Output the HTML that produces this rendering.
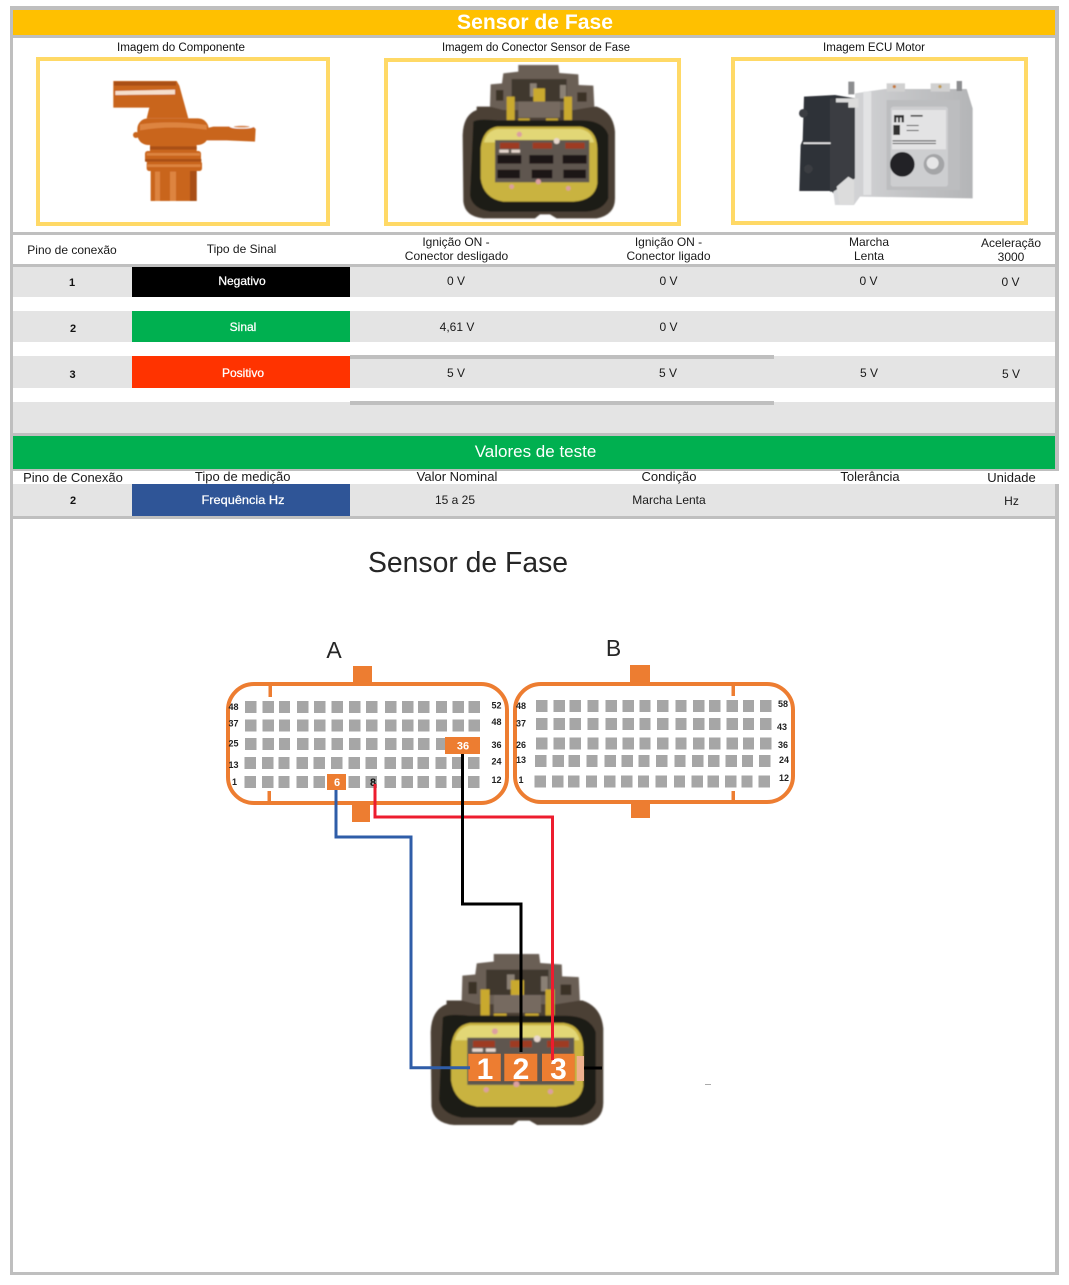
<!DOCTYPE html>
<html><head><meta charset="utf-8"><title>Sensor de Fase</title>
<style>html,body{margin:0;padding:0;background:#fff}svg{display:block}text{font-family:"Liberation Sans",sans-serif}</style></head>
<body>
<svg xmlns="http://www.w3.org/2000/svg" width="1069" height="1285" viewBox="0 0 1069 1285">
<defs>
<filter id="b1" x="-5%" y="-5%" width="110%" height="110%"><feGaussianBlur stdDeviation="2.4"/></filter>
<filter id="b2" x="-5%" y="-5%" width="110%" height="110%"><feGaussianBlur stdDeviation="1.5"/></filter>
<linearGradient id="plate" x1="0" y1="0" x2="1" y2="0"><stop offset="0" stop-color="#d8d9db"/><stop offset=".5" stop-color="#c4c5c7"/><stop offset="1" stop-color="#b4b5b7"/></linearGradient>
<path id="ra" d="M245 0h11.500v12h-11.500zM262.500 0h11.500v12h-11.500zM279 0h11v12h-11zM297 0h11.500v12h-11.500zM314 0h11.500v12h-11.500zM331.500 0h11.500v12h-11.500zM349 0h11.500v12h-11.500zM366 0h11.500v12h-11.500zM385 0h11.500v12h-11.500zM402 0h11.500v12h-11.500zM418 0h11.500v12h-11.500zM436 0h11v12h-11zM452.500 0h11.500v12h-11.500zM468.500 0h11.500v12h-11.500z"/>
<path id="rb" d="M536 0h11.500v12h-11.500zM553.500 0h11.500v12h-11.500zM569.500 0h11.500v12h-11.500zM587.500 0h11v12h-11zM605.500 0h11.500v12h-11.500zM622.500 0h11.500v12h-11.500zM639.500 0h11v12h-11zM657 0h11.500v12h-11.500zM675.500 0h11v12h-11zM693 0h11.500v12h-11.500zM709 0h11.500v12h-11.500zM726.500 0h11.500v12h-11.500zM743 0h11v12h-11zM760 0h11.500v12h-11.500z"/>
<g id="conn" filter="url(#b1)">
  <path fill="#4b4036" d="M110 165Q70 180 68 240L70 440Q75 485 130 490L285 490L300 478L330 478L350 490L470 490Q525 480 525 430L525 230Q520 172 470 155L110 155Z"/>
  <path fill="#6a5e54" d="M235 30L355 30L358 54L415 58L416 90L460 92L463 155L400 165L190 165L150 155L152 88L186 85L190 55L235 50Z"/>
  <path fill="#3a3128" d="M168 105h22v32h-22zM412 112h28v28h-28z"/>
  <path fill="#3f372f" d="M215 72h165v68h-165z"/>
  <path fill="#8a8074" d="M270 85h20v40h-20zM360 90h18v40h-18z"/>
  <path fill="#c9a92d" d="M280 100h35v40h-35zM200 125h24v70h-24zM372 125h24v70h-24zM235 190h34v24h-34zM318 190h36v24h-36z"/>
  <path fill="#766a60" d="M235 140h125v48h-125z"/>
  <path fill="#1f1a15" d="M100 200Q115 190 170 196L420 196Q490 195 505 240L505 430Q490 465 440 470L150 470Q95 460 90 420Z"/>
  <path fill="#c9b33f" d="M172 215L420 215Q470 222 472 280L472 385Q465 435 400 440L190 440Q130 430 122 370L122 280Q128 222 172 215Z"/>
  <path fill="#e2d776" d="M172 222L420 222Q455 228 462 262L132 262Q140 228 172 222Z"/>
  <rect x="165" y="255" width="283" height="127" fill="#5f5750"/>
  <g fill="#1c1816"><rect x="172" y="300" width="72" height="26"/><rect x="268" y="300" width="72" height="26"/><rect x="368" y="300" width="72" height="26"/><rect x="172" y="344" width="68" height="26"/><rect x="275" y="344" width="62" height="26"/><rect x="370" y="344" width="68" height="26"/></g>
  <g fill="#9e3a24"><rect x="180" y="263" width="58" height="18"/><rect x="278" y="263" width="58" height="18"/><rect x="376" y="263" width="58" height="18"/></g>
  <g fill="#e8d8cf"><rect x="178" y="284" width="28" height="9"/><rect x="214" y="284" width="26" height="9"/><circle cx="350" cy="258" r="9"/></g>
  <g fill="#dc9fa0"><circle cx="238" cy="238" r="8"/><circle cx="215" cy="395" r="7"/><circle cx="295" cy="380" r="8"/><circle cx="385" cy="400" r="7"/></g>
</g>
</defs>
<rect width="1069" height="1285" fill="#fff"/>

<!-- frame -->
<g fill="#bfbfbf">
<rect x="10" y="6" width="1049" height="4"/>
<rect x="10" y="6" width="3" height="1269"/>
<rect x="1055" y="6" width="4" height="465"/>
<rect x="1055" y="484" width="4" height="791"/>
<rect x="10" y="1272" width="1049" height="3"/>
<rect x="13" y="35" width="1043" height="3"/>
<rect x="13" y="232" width="1043" height="3"/>
<rect x="13" y="264" width="1043" height="3"/>
<rect x="13" y="433" width="1043" height="3"/>
<rect x="13" y="516" width="1043" height="3"/>
<rect x="13" y="469" width="1046" height="2"/>
</g>
<rect x="13" y="10" width="1042" height="25" fill="#ffc000"/>
<text x="535" y="29" text-anchor="middle" fill="#fff" font-size="21" font-weight="bold" textLength="156" lengthAdjust="spacingAndGlyphs">Sensor de Fase</text>

<g font-size="11.500" fill="#111" text-anchor="middle">
<text x="181" y="51" textLength="128" lengthAdjust="spacingAndGlyphs">Imagem do Componente</text>
<text x="536" y="51" textLength="188" lengthAdjust="spacingAndGlyphs">Imagem do Conector Sensor de Fase</text>
<text x="874" y="51" textLength="102" lengthAdjust="spacingAndGlyphs">Imagem ECU Motor</text>
</g>
<g fill="none" stroke="#ffd966" stroke-width="4">
<rect x="38" y="59" width="290" height="165"/>
<rect x="386" y="60" width="293" height="164"/>
<rect x="733" y="59" width="293" height="164"/>
</g>

<!-- sensor -->
<g transform="translate(90 65) scale(.3333)" filter="url(#b2)" fill="#c9651f">
<path d="M70 48L260 48L268 62L295 160L170 160L178 128L70 128Z"/>
<rect x="142" y="160" width="214" height="80" rx="32"/>
<circle cx="138" cy="210" r="9"/>
<path d="M340 192L370 185L490 185L497 192L495 230L410 226L340 226Z"/>
<rect x="180" y="236" width="140" height="24"/>
<rect x="165" y="258" width="168" height="34" rx="8"/>
<rect x="170" y="288" width="166" height="30" rx="8"/>
<rect x="182" y="310" width="138" height="98"/>
<path fill="#f5dfcc" d="M76 78L255 74L255 88L76 90Z"/>
<path fill="#dd8441" d="M150 178Q240 165 350 180L350 194Q240 180 150 196ZM170 264H330V272H170ZM172 298H332V306H172ZM240 320H258V408H240ZM195 320H210V408H195Z"/>
<path fill="#a94f14" d="M72 50H258V62H72ZM165 282H334V290H165ZM180 244H320V254H180ZM300 318H320V408H300Z"/>
<ellipse cx="455" cy="185" rx="36" ry="6" fill="#fff"/>
<ellipse cx="455" cy="185" rx="24" ry="3" fill="#d98a4d"/>
</g>

<!-- connector photo -->
<use href="#conn" transform="translate(440 55) scale(.3333)"/>

<!-- ECU -->
<g transform="translate(780 65) scale(.3333)" filter="url(#b2)">
<path fill="#2f3338" d="M72 95L165 90L225 100L228 370L160 385L155 378L58 378L62 240L68 226Z"/>
<circle cx="70" cy="145" r="13" fill="#3a3d42"/><circle cx="85" cy="312" r="13" fill="#3a3d42"/>
<rect x="150" y="100" width="75" height="280" fill="#3b3e43"/>
<rect x="70" y="232" width="82" height="5" fill="#e8e8e8"/>
<path fill="url(#plate)" d="M225 85L315 72H560L578 130L578 400L240 395L222 420L165 420L160 380L225 340Z"/>
<rect x="320" y="55" width="55" height="25" fill="#d0d0d0"/><rect x="452" y="55" width="58" height="25" fill="#d0d0d0"/>
<rect x="250" y="80" width="24" height="310" fill="#e2e3e4"/>
<path fill="#bcbdbf" d="M320 105H540V375H320Z"/>
<rect x="332" y="125" width="172" height="240" rx="8" fill="#cdced0"/>
<rect x="336" y="135" width="162" height="118" fill="#e3e3e4"/>
<path fill="#333" d="M342 150h30v22h-7v-14h-5v14h-6v-14h-5v14h-7zM340 180h20v30h-20zM392 150h36v5h-36zM380 180h36v3h-36zM380 195h36v3h-36zM338 226h130v3h-130zM338 234h130v3h-130z"/>
<circle cx="367" cy="298" r="37" fill="#212326"/>
<circle cx="462" cy="298" r="31" fill="#a4a5a7"/>
<circle cx="458" cy="294" r="18" fill="#e6e6e7"/>
<circle cx="343" cy="65" r="5" fill="#c77a3a"/><circle cx="480" cy="65" r="5" fill="#c09a50"/>
<path fill="#8c8d8f" d="M205 50h18v38h-18zM530 48h16v30h-16z"/>
<path fill="#dcdcdc" d="M168 100H235V128H205V112H168ZM170 365L205 335L222 345V418H178Z"/>
</g>

<!-- table 1 -->
<g fill="#e4e4e4">
<rect x="13" y="267" width="1042" height="30"/>
<rect x="13" y="311" width="1042" height="31"/>
<rect x="13" y="356" width="1042" height="32"/>
<rect x="13" y="402" width="1042" height="31"/>
<rect x="13" y="484" width="1042" height="32"/>
</g>
<rect x="350" y="355" width="424" height="4" fill="#bfbfbf"/>
<rect x="350" y="401" width="424" height="4" fill="#bfbfbf"/>
<rect x="132" y="267" width="218" height="30" fill="#000"/>
<rect x="132" y="311" width="218" height="31" fill="#00b050"/>
<rect x="132" y="356" width="218" height="32" fill="#ff3300"/>
<rect x="13" y="436" width="1042" height="33" fill="#00b050"/>
<rect x="132" y="484" width="218" height="32" fill="#2f5597"/>

<g font-size="12" fill="#1a1a1a" text-anchor="middle">
<text x="72" y="254">Pino de conexão</text>
<text x="241.500" y="253">Tipo de Sinal</text>
<text x="456" y="246">Ignição ON -</text><text x="456.500" y="260">Conector desligado</text>
<text x="668.500" y="246">Ignição ON -</text><text x="668.500" y="260">Conector ligado</text>
<text x="869" y="246">Marcha</text><text x="869" y="260">Lenta</text>
<text x="1011" y="247">Aceleração</text><text x="1011" y="261">3000</text>
<text x="456" y="285">0 V</text><text x="668.500" y="285">0 V</text><text x="868.500" y="285">0 V</text><text x="1010.500" y="286">0 V</text>
<text x="457" y="331">4,61 V</text><text x="668.500" y="331">0 V</text>
<text x="456" y="377">5 V</text><text x="668" y="377">5 V</text><text x="869" y="377">5 V</text><text x="1011" y="378">5 V</text>
<text x="455" y="504">15 a 25</text><text x="669" y="504">Marcha Lenta</text><text x="1011.500" y="505">Hz</text>
</g>
<g font-size="11" font-weight="bold" fill="#111" text-anchor="middle">
<text x="72" y="286">1</text><text x="73" y="332">2</text><text x="72.500" y="378">3</text><text x="73" y="504">2</text>
</g>
<g font-size="12" fill="#fff" text-anchor="middle" stroke="#fff" stroke-width=".25">
<text x="242" y="285">Negativo</text><text x="243" y="331">Sinal</text><text x="243" y="377">Positivo</text>
<text x="243" y="504" textLength="83" lengthAdjust="spacingAndGlyphs">Frequência Hz</text>
</g>
<text x="535.500" y="457" font-size="17" fill="#fff" text-anchor="middle">Valores de teste</text>
<g font-size="13" fill="#1a1a1a" text-anchor="middle">
<text x="73" y="482">Pino de Conexão</text><text x="242.700" y="481">Tipo de medição</text><text x="457" y="481">Valor Nominal</text><text x="669" y="481">Condição</text><text x="870" y="481">Tolerância</text><text x="1011.500" y="482">Unidade</text>
</g>

<!-- diagram title -->
<text x="468" y="572" font-size="29" fill="#262626" text-anchor="middle" textLength="200" lengthAdjust="spacingAndGlyphs">Sensor de Fase</text>
<text x="334" y="658" font-size="23" fill="#262626" text-anchor="middle">A</text>
<text x="613.500" y="656" font-size="23" fill="#262626" text-anchor="middle">B</text>

<!-- connectors A, B -->
<g fill="#ed7d31">
<rect x="353" y="666" width="19" height="18"/><rect x="352" y="803" width="18" height="19"/>
<rect x="268.500" y="685" width="3.500" height="12"/><rect x="267.500" y="791" width="3.500" height="11"/>
<rect x="630" y="665" width="20" height="19"/><rect x="631" y="802" width="19" height="16"/>
<rect x="731.500" y="685" width="3.500" height="11"/><rect x="731.500" y="791" width="3.500" height="10"/>
</g>
<rect x="228" y="684" width="279" height="119" rx="26" fill="none" stroke="#ed7d31" stroke-width="4"/>
<rect x="515" y="684" width="278" height="118" rx="26" fill="none" stroke="#ed7d31" stroke-width="4"/>
<g fill="#a6a6a6">
<use href="#ra" y="701"/><use href="#ra" y="719.500"/><use href="#ra" y="738"/><use href="#ra" x="-.5" y="757"/><use href="#ra" x="-.5" y="776"/>
<use href="#rb" y="700"/><use href="#rb" y="718"/><use href="#rb" y="737.500"/><use href="#rb" x="-1" y="755"/><use href="#rb" x="-1.5" y="775.500"/>
</g>
<rect x="445" y="737" width="35" height="17" fill="#ed7d31"/>
<rect x="327" y="774" width="19" height="16" fill="#ed7d31"/>
<g font-weight="bold" fill="#fff" text-anchor="middle" font-size="11" style="font-family:'DejaVu Sans',sans-serif">
<text x="463" y="749.500">36</text><text x="337" y="786">6</text>
</g>
<g font-size="9" font-weight="bold" fill="#222" text-anchor="middle">
<text x="233.500" y="710">48</text><text x="233.500" y="726.500">37</text><text x="233.500" y="746.500">25</text><text x="233.500" y="768">13</text><text x="234.500" y="785">1</text>
<text x="496.500" y="708.500">52</text><text x="496.500" y="725">48</text><text x="496.500" y="748">36</text><text x="496.500" y="764.500">24</text><text x="496.500" y="783">12</text>
<text x="521" y="709">48</text><text x="521" y="726.500">37</text><text x="521" y="748">26</text><text x="521" y="763">13</text><text x="521" y="783">1</text>
<text x="783" y="707">58</text><text x="782" y="730">43</text><text x="783" y="748">36</text><text x="784" y="763">24</text><text x="784" y="781">12</text>
</g>
<text x="373" y="786" font-size="11" font-weight="bold" fill="#111" text-anchor="middle">8</text>

<!-- bottom connector -->
<use href="#conn" transform="translate(405 942.900) scale(.3777 .3717)"/>
<rect x="468.300" y="1053.700" width="32.500" height="27.500" fill="#ed7d31"/>
<rect x="504.300" y="1053.700" width="33" height="27.500" fill="#ed7d31"/>
<rect x="542" y="1053.700" width="32.700" height="27.500" fill="#ed7d31"/>
<rect x="576.700" y="1056" width="7.300" height="25" fill="#eeb08e"/>
<g font-size="30" font-weight="bold" fill="#fff" text-anchor="middle" style="font-family:'DejaVu Sans',sans-serif">
<text x="485" y="1079">1</text><text x="521" y="1079">2</text><text x="558.500" y="1079">3</text>
</g>

<!-- wires -->
<g fill="none" stroke-width="3">
<path d="M336 790V837H411V1067.700H470" stroke="#2f5da8"/>
<path d="M375 784V817H552.500V1060" stroke="#ed1c2e"/>
<path d="M462.500 754V904H521V1052" stroke="#000"/>
<path d="M584 1068H602" stroke="#000"/>
</g>
<rect x="705" y="1084" width="6" height="1" fill="#aaa"/>
</svg>
</body></html>
